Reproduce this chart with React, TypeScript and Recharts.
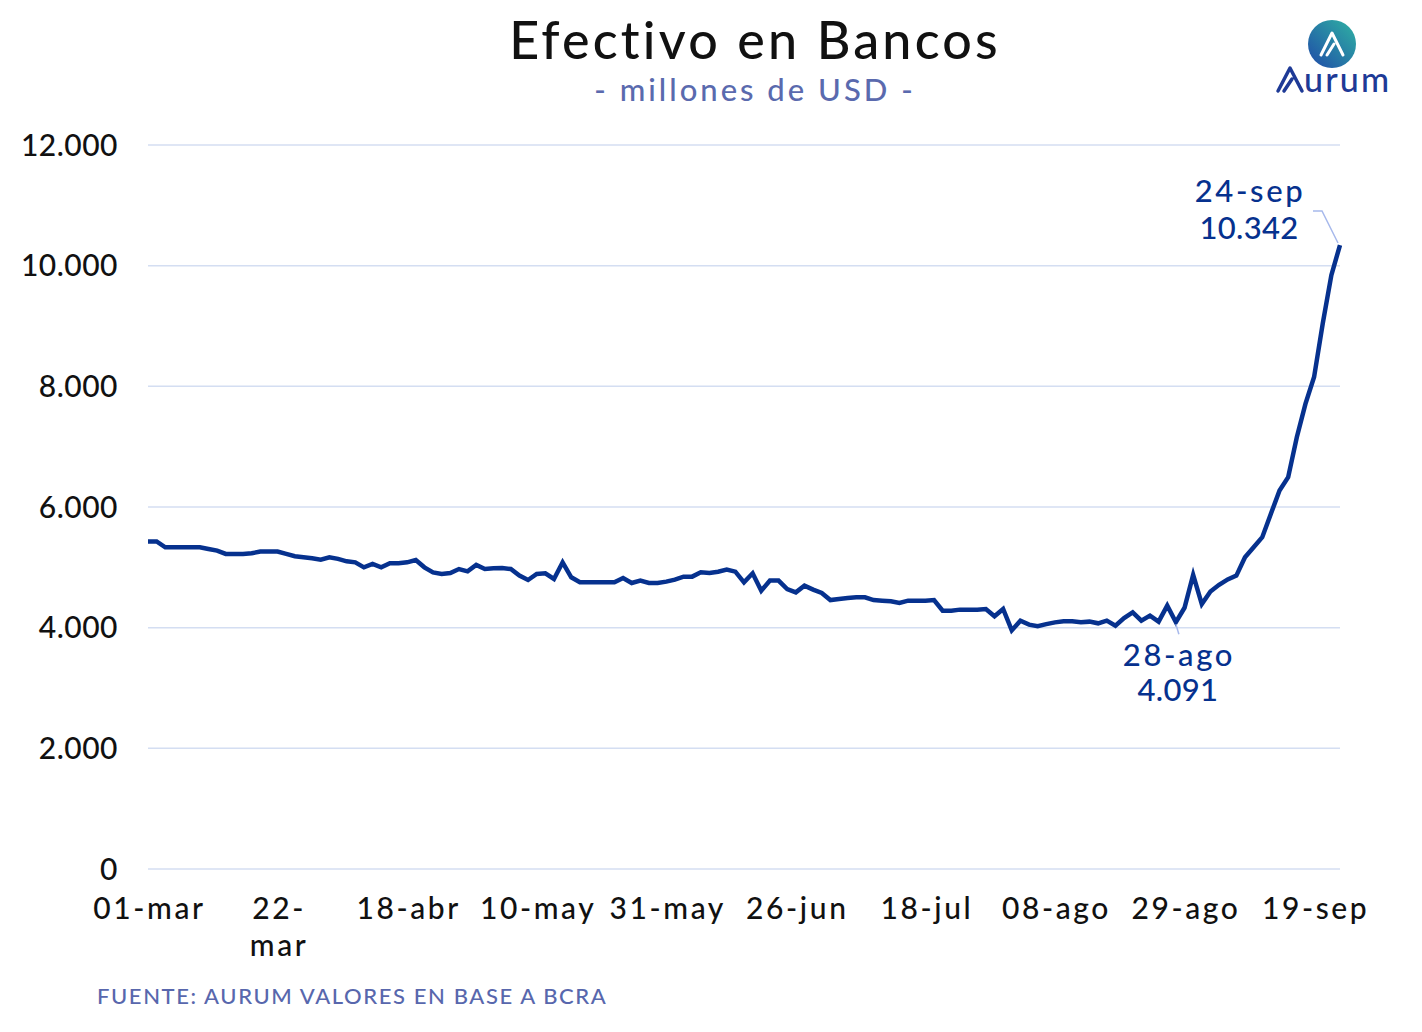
import React from 'react';
import { LineChart, Line, XAxis, YAxis, CartesianGrid } from 'recharts';

const FONT = 'Lato, "Noto Sans", sans-serif';
const W = 500;

// Business days (Argentina, 2024)
const dates = [
  '01-mar', '04-mar', '05-mar', '06-mar', '07-mar', '08-mar', '11-mar', '12-mar', '13-mar', '14-mar',
  '15-mar', '18-mar', '19-mar', '20-mar', '21-mar', '22-mar', '25-mar', '26-mar', '27-mar', '03-abr',
  '04-abr', '05-abr', '08-abr', '09-abr', '10-abr', '11-abr', '12-abr', '15-abr', '16-abr', '17-abr',
  '18-abr', '19-abr', '22-abr', '23-abr', '24-abr', '25-abr', '26-abr', '29-abr', '30-abr', '02-may',
  '03-may', '06-may', '07-may', '08-may', '09-may', '10-may', '13-may', '14-may', '15-may', '16-may',
  '17-may', '20-may', '21-may', '22-may', '23-may', '24-may', '27-may', '28-may', '29-may', '30-may',
  '31-may', '03-jun', '04-jun', '05-jun', '06-jun', '07-jun', '10-jun', '11-jun', '12-jun', '13-jun',
  '14-jun', '18-jun', '19-jun', '24-jun', '25-jun', '26-jun', '27-jun', '28-jun', '01-jul', '02-jul',
  '03-jul', '04-jul', '05-jul', '08-jul', '10-jul', '11-jul', '12-jul', '15-jul', '16-jul', '17-jul',
  '18-jul', '19-jul', '22-jul', '23-jul', '24-jul', '25-jul', '26-jul', '29-jul', '30-jul', '31-jul',
  '01-ago', '02-ago', '05-ago', '06-ago', '07-ago', '08-ago', '09-ago', '12-ago', '13-ago', '14-ago',
  '15-ago', '16-ago', '19-ago', '20-ago', '21-ago', '22-ago', '23-ago', '26-ago', '27-ago', '28-ago',
  '29-ago', '30-ago', '02-sep', '03-sep', '04-sep', '05-sep', '06-sep', '09-sep', '10-sep', '11-sep',
  '12-sep', '13-sep', '16-sep', '17-sep', '18-sep', '19-sep', '20-sep', '23-sep', '24-sep',
];

// Efectivo en bancos, millones de USD
const values = [
  5430, 5430, 5333, 5333, 5333, 5333, 5333, 5305, 5278, 5222,
  5222, 5222, 5233, 5261, 5261, 5261, 5222, 5183, 5167, 5150,
  5128, 5167, 5140, 5100, 5083, 5000, 5055, 5000, 5067, 5067,
  5083, 5122, 5000, 4917, 4890, 4906, 4972, 4934, 5040, 4972,
  4984, 4990, 4972, 4863, 4790, 4890, 4900, 4808, 5083, 4835,
  4752, 4752, 4752, 4752, 4752, 4823, 4740, 4780, 4740, 4740,
  4763, 4797, 4846, 4846, 4917, 4906, 4928, 4962, 4928, 4752,
  4901, 4612, 4780, 4780, 4640, 4585, 4697, 4630, 4575, 4458,
  4475, 4492, 4503, 4503, 4458, 4448, 4437, 4409, 4448, 4448,
  4448, 4458, 4282, 4282, 4299, 4299, 4299, 4310, 4188, 4310,
  3955, 4116, 4050, 4025, 4058, 4088, 4105, 4105, 4088, 4100,
  4072, 4116, 4033, 4160, 4254, 4116, 4199, 4100, 4365, 4091,
  4330, 4875, 4392, 4600, 4710, 4800, 4863, 5167, 5333, 5500,
  5888, 6274, 6494, 7157, 7710, 8154, 9039, 9842, 10342,
];

const xTicks = ['01-mar', '22-mar', '18-abr', '10-may', '31-may', '26-jun', '18-jul', '08-ago', '29-ago', '19-sep'];
const yTicks = [0, 2000, 4000, 6000, 8000, 10000, 12000];
const annotated = ['28-ago', '24-sep'];

const data = dates.map((d, i) => ({ date: d, value: values[i] }));

const LINE_COLOR = '#06318e';
const LEADER_COLOR = '#a7b9ec';
const fmt = (v: number) => String(v).replace(/\B(?=(\d{3})+(?!\d))/g, '.');

const XTick = (props: any) => {
  const { x, y, payload } = props;
  const label: string = payload.value;
  const lines = label === '22-mar' ? ['22-', 'mar'] : [label];
  return (
    <text x={x + 1.5} y={y} textAnchor="middle" fontSize={30} fontWeight={W} fill="#111" fontFamily={FONT} letterSpacing={2.6}>
      {lines.map((l, i) => (
        <tspan key={i} x={x + 1.5} dy={i === 0 ? 50 : 37}>{l}</tspan>
      ))}
    </text>
  );
};

const PointLabel = (props: any) => {
  const { x, y, index } = props;
  const d = data[index];
  if (!d || !annotated.includes(d.date)) return null;
  const isLast = index === data.length - 1;
  if (isLast) {
    return (
      <g>
        <polyline points={`${x - 27},${y - 34} ${x - 18},${y - 34} ${x - 2},${y - 2}`} fill="none" stroke={LEADER_COLOR} strokeWidth={1.5} />
        <text x={x - 90} y={y - 43} textAnchor="middle" fontSize={31} fontWeight={W} fill={LINE_COLOR} fontFamily={FONT} letterSpacing={2.6}>{d.date}</text>
        <text x={x - 91} y={y - 6} textAnchor="middle" fontSize={31} fontWeight={W} fill={LINE_COLOR} fontFamily={FONT} letterSpacing={0.3}>{fmt(d.value)}</text>
      </g>
    );
  }
  return (
    <g>
      <line x1={x} y1={y + 2} x2={x + 3} y2={y + 12} stroke={LEADER_COLOR} strokeWidth={1.5} />
      <text x={x + 3} y={y + 44} textAnchor="middle" fontSize={31} fontWeight={W} fill={LINE_COLOR} fontFamily={FONT} letterSpacing={2.6}>{d.date}</text>
      <text x={x + 2} y={y + 79} textAnchor="middle" fontSize={31} fontWeight={W} fill={LINE_COLOR} fontFamily={FONT} letterSpacing={0.3}>{fmt(d.value)}</text>
    </g>
  );
};

export default function App() {
  return (
    <div style={{ position: 'absolute', left: 0, top: 0, width: 1422, height: 1032, background: '#fff', fontFamily: FONT }}>
      <LineChart width={1422} height={1032} data={data} margin={{ top: 145, right: 82, bottom: 83, left: 0 }}>
        <CartesianGrid vertical={false} stroke="#d4def2" strokeWidth={1.5} />
        <XAxis
          dataKey="date"
          type="category"
          ticks={xTicks}
          interval={0}
          tick={<XTick />}
          tickLine={false}
          tickSize={0}
          tickMargin={0}
          axisLine={false}
          height={80}
        />
        <YAxis
          domain={[0, 12000]}
          ticks={yTicks}
          tickFormatter={fmt}
          width={148}
          tickLine={false}
          tickSize={0}
          tickMargin={30}
          axisLine={false}
          tick={{ fontSize: 30, fill: '#111', fontFamily: FONT, fontWeight: W, letterSpacing: 0.5 }}
        />
        <Line
          type="linear"
          dataKey="value"
          stroke={LINE_COLOR}
          strokeWidth={4.5}
          dot={false}
          isAnimationActive={false}
          label={<PointLabel />}
        />
      </LineChart>
      <svg width={1422} height={1032} style={{ position: 'absolute', left: 0, top: 0, pointerEvents: 'none' }}>
        <defs>
          <linearGradient id="logoGrad" x1="1" y1="0" x2="0" y2="1">
            <stop offset="0%" stopColor="#2fb3a3" />
            <stop offset="100%" stopColor="#1f4aa8" />
          </linearGradient>
        </defs>
        <text x={755} y={59} textAnchor="middle" fontSize={52} fontWeight={W} fill="#111" fontFamily={FONT} letterSpacing={3.2}>Efectivo en Bancos</text>
        <text x={755} y={101} textAnchor="middle" fontSize={31} fontWeight={W} fill="#5a6aae" fontFamily={FONT} letterSpacing={3}>- millones de USD -</text>
        <text x={97} y={1004} fontSize={22} fontWeight={W} fill="#5867ad" fontFamily={FONT} letterSpacing={1.6}>FUENTE: AURUM VALORES EN BASE A BCRA</text>
        <circle cx={1332} cy={44} r={24} fill="url(#logoGrad)" />
        <path d="M1321 55 L1332 33 L1343 55 M1327 55 L1334 44" fill="none" stroke="#fff" strokeWidth={3} strokeLinecap="round" strokeLinejoin="round" />
        <path d="M1278 91 L1290 68 L1302 91 M1284 91 L1292 79" fill="none" stroke="#1e3a96" strokeWidth={3.5} strokeLinecap="round" strokeLinejoin="round" />
        <text x={1304} y={92} fontSize={34} fontWeight={W} fill="#1e3a96" fontFamily={FONT} letterSpacing={2.2}>urum</text>
      </svg>
    </div>
  );
}
